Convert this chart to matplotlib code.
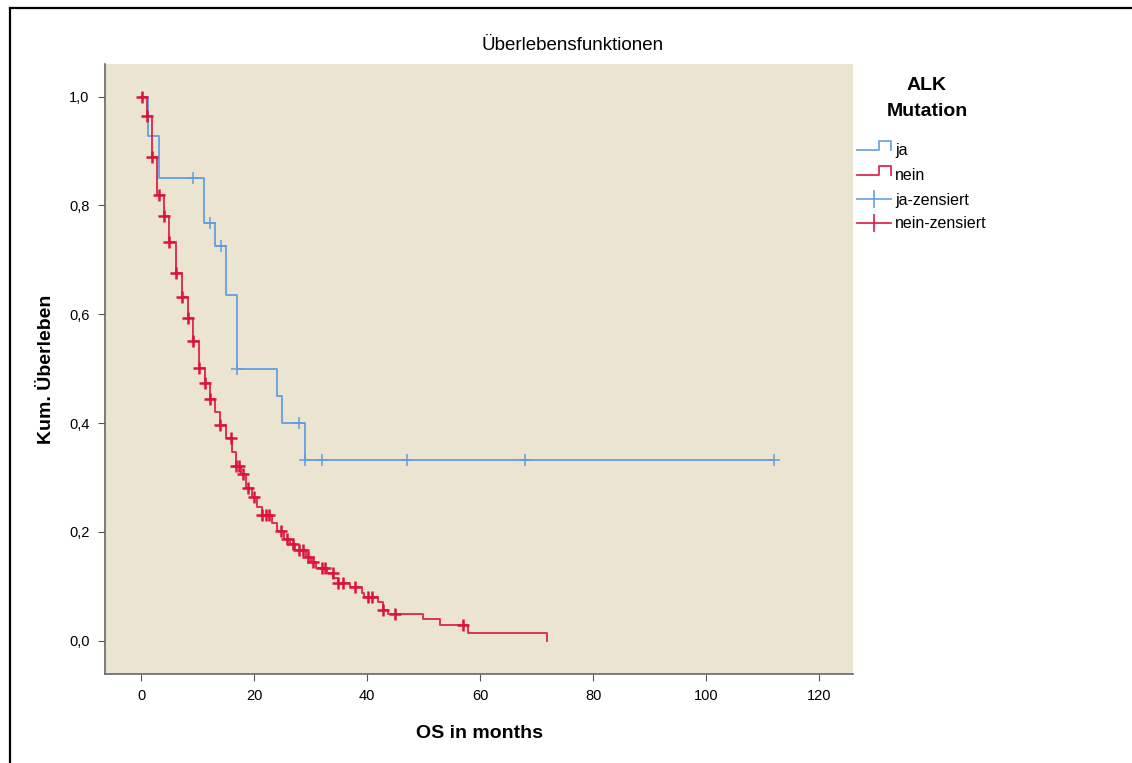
import matplotlib
matplotlib.use("Agg")
import matplotlib.pyplot as plt
from matplotlib.lines import Line2D
from matplotlib.ticker import FuncFormatter
import numpy as np

plt.rcParams['font.family'] = ['Liberation Sans', 'DejaVu Sans']

# Kaplan-Meier steps (time of drop, survival after drop)
ja_times = [0, 1.2, 3.2, 11.1, 13.1, 15.0, 17.0, 24.1, 25.0, 29.0, 112.0]
ja_surv = [1.0, 0.928, 0.851, 0.768, 0.726, 0.636, 0.500, 0.449, 0.400, 0.333, 0.333]
ja_censored = [9.2, 12.1, 14.2, 17.0, 28.0, 29.0, 32.0, 47.0, 68.0, 112.0]

nein_times = [0, 1.0, 2.0, 2.8, 4.0, 5.0, 6.2, 7.3, 8.3, 9.2, 10.3, 11.3, 12.2,
              13.1, 14.0, 15.0, 16.0, 16.8, 17.7, 18.6, 19.6, 20.5, 21.4, 23.2,
              24.0, 25.3, 26.4, 27.3, 29.2, 30.0, 31.0, 32.9, 34.0, 34.9, 37.0,
              39.1, 39.5, 41.9, 42.8, 43.7, 49.9, 52.9, 57.9, 71.9]
nein_surv = [1.0, 0.965, 0.890, 0.820, 0.780, 0.733, 0.676, 0.632, 0.594, 0.551,
             0.502, 0.474, 0.445, 0.421, 0.397, 0.373, 0.347, 0.322, 0.307, 0.281,
             0.265, 0.246, 0.232, 0.217, 0.202, 0.188, 0.178, 0.167, 0.154, 0.145,
             0.134, 0.125, 0.116, 0.107, 0.099, 0.088, 0.081, 0.072, 0.057, 0.050,
             0.040, 0.029, 0.015, 0.0]
nein_censored = [0.2, 1.1, 2.0, 3.2, 4.0, 5.0, 6.2, 7.3, 8.3, 9.2, 10.3, 11.3,
                 12.2, 14.0, 15.9, 16.8, 17.3, 18.0, 19.0, 20.0, 21.4, 22.1, 22.6,
                 24.8, 25.9, 26.9, 28.0, 28.6, 29.5, 30.4, 32.0, 32.6, 33.9, 34.9,
                 35.8, 37.9, 40.2, 40.9, 42.8, 45.0, 57.0]

x_ticks = [0, 20, 40, 60, 80, 100, 120]
y_ticks = [0.0, 0.2, 0.4, 0.6, 0.8, 1.0]

BLUE = '#5E9DE3'
RED = '#DC143C'
BG = '#EBE4D0'


def surv_at(times, surv, t):
    idx = np.searchsorted(times, t, side='right') - 1
    return np.asarray(surv)[idx]


fig = plt.figure(figsize=(11.32, 7.63), dpi=100)
ax = fig.add_axes([105 / 1132, 1 - 674 / 763, 748 / 1132, 610 / 763])
ax.set_facecolor(BG)

ax.step(ja_times, ja_surv, where='post', color=BLUE, lw=1.4, alpha=0.9)
ax.step(nein_times, nein_surv, where='post', color=RED, lw=1.4, alpha=0.85)
ax.plot(ja_censored, surv_at(ja_times, ja_surv, ja_censored), ls='none',
        marker='+', ms=9, mew=1.1, color=BLUE)
ax.plot(nein_censored, surv_at(nein_times, nein_surv, nein_censored), ls='none',
        marker='+', ms=9, mew=1.8, color=RED)

ax.set_xlim(-6.4, 126)
ax.set_ylim(-0.061, 1.06)
ax.set_xticks(x_ticks)
ax.set_yticks(y_ticks)
ax.yaxis.set_major_formatter(FuncFormatter(lambda v, p: f"{v:.1f}".replace('.', ',')))
ax.tick_params(direction='out', length=5, color='#555555', labelsize=10.5, pad=6)
for s in ['top', 'right']:
    ax.spines[s].set_visible(False)
for s in ['left', 'bottom']:
    ax.spines[s].set_color('#666666')
    ax.spines[s].set_linewidth(1.2)

ax.set_xlabel('OS in months', fontsize=14, fontweight='bold', labelpad=16)
ax.set_ylabel('Kum. Überleben', fontsize=14, fontweight='bold', labelpad=10)
fig.text(573 / 1132, 1 - 46 / 763, 'Überlebensfunktionen', fontsize=13.5,
         ha='center', va='center')

# legend drawn in pixel coordinates
lg = fig.add_axes([0, 0, 1, 1], facecolor='none')
lg.set_xlim(0, 1132)
lg.set_ylim(763, 0)
lg.axis('off')
lg.text(927, 86, 'ALK', fontsize=14, fontweight='bold', ha='center', va='center')
lg.text(927, 112, 'Mutation', fontsize=14, fontweight='bold', ha='center', va='center')
entries = [('ja', BLUE, 'step', 150), ('nein', RED, 'step', 175),
           ('ja-zensiert', BLUE, 'plus', 199), ('nein-zensiert', RED, 'plus', 223)]
for label, col, kind, yy in entries:
    if kind == 'step':
        lg.plot([857, 879, 879, 891, 891], [yy, yy, yy - 9, yy - 9, yy],
                color=col, lw=1.3, alpha=0.9)
    else:
        lg.plot([857, 891], [yy, yy], color=col, lw=1.3, alpha=0.9)
        lg.plot([874, 874], [yy - 8, yy + 8], color=col, lw=1.3, alpha=0.9)
    lg.text(895, yy + 1, label, fontsize=11.5, ha='left', va='center')

# outer frame
lg.add_line(Line2D([10, 10], [8, 763], color='black', lw=1.6))
lg.add_line(Line2D([10, 1132], [8, 8], color='black', lw=1.6))

fig.savefig('out.png', dpi=100)
